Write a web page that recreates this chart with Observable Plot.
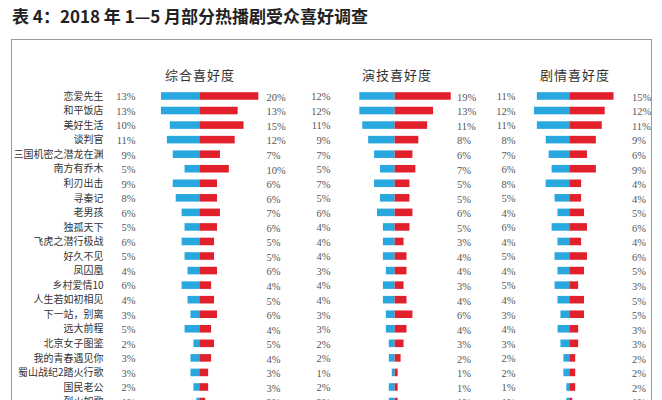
<!DOCTYPE html>
<html><head><meta charset="utf-8">
<script src="https://cdn.jsdelivr.net/npm/d3@7"></script>
<script src="https://cdn.jsdelivr.net/npm/@observablehq/plot@0.6"></script>
<style>
html,body{margin:0;padding:0;background:#fff;overflow:hidden;width:662px;height:400px}
#root{position:relative;width:662px;height:400px;overflow:hidden}
#title{position:absolute;left:12px;top:3px;font:bold 17px "Noto Sans CJK SC";color:#222;white-space:nowrap}
#frame{position:absolute;left:11px;top:39px;width:639px;height:420px;border:1px solid #9a9a9a;box-sizing:content-box}
.head{position:absolute;top:65px;font:13px "Noto Sans CJK SC";letter-spacing:1px;color:#333;transform:translateX(-50%);white-space:nowrap}
.panel{position:absolute;left:0;top:0}
</style></head><body>
<div id="root">
  <div id="title">表 4：2018 年 1—5 月部分热播剧受众喜好调查</div>
  <div id="frame"></div>
</div>
<script>
const names = ["恋爱先生","和平饭店","美好生活","谈判官","三国机密之潜龙在渊","南方有乔木","利刃出击","寻秦记","老男孩","独孤天下","飞虎之潜行极战","好久不见","凤囚凰","乡村爱情10","人生若如初相见","下一站，别离","远大前程","北京女子图鉴","我的青春遇见你","蜀山战纪2踏火行歌","国民老公","烈火如歌"];
const panelTitles = ["综合喜好度","演技喜好度","剧情喜好度"];
const overallBlue = [13,13,10,11,9,5,9,8,6,5,6,5,4,6,4,3,5,2,3,3,2,1];
const overallRed  = [20,13,15,12,7,10,6,6,7,6,5,5,6,4,5,6,4,5,4,3,3,2];
const actingBlue  = [12,12,11,9,7,5,7,5,6,4,4,4,3,4,4,3,3,2,2,1,2,2];
const actingRed   = [19,13,11,8,6,7,5,5,6,5,3,4,4,3,4,6,4,3,2,1,1,1];
const plotBlue    = [11,12,11,8,7,6,8,5,4,6,4,5,4,5,4,3,4,3,2,2,1,1];
const plotRed     = [15,12,11,9,6,9,4,4,5,6,4,6,5,3,5,5,3,3,2,2,2,1];

const BLUE = "#29a8e0", RED = "#e2202b";
const W = 662, H = 408.8, TOP = 88.7, K = 2.95;
const layouts = [
  {split: 199.3, labL: 135, labR: 266, head: 200},
  {split: 394.7, labL: 330, labR: 456.5, head: 397},
  {split: 569.3, labL: 515, labR: 631.5, head: 575}
];
const series = [[overallBlue, overallRed],[actingBlue, actingRed],[plotBlue, plotRed]];
const root = document.getElementById("root");

series.forEach(([blue, red], p) => {
  const L = layouts[p];
  const rows = names.map((n, i) => ({name: n, b: blue[i], r: red[i]}));
  const marks = [
    Plot.barX(rows, {y: "name", x1: 0, x2: d => -d.b, fill: BLUE}),
    Plot.barX(rows, {y: "name", x1: 0, x2: "r", fill: RED}),
    Plot.text(rows, {y: "name", text: d => d.b + "%", frameAnchor: "left", textAnchor: "end", fill: "#555", fontFamily: "Liberation Serif", fontSize: 10.5, dy: 0.5}),
    Plot.text(rows, {y: "name", text: d => d.r + "%", frameAnchor: "right", textAnchor: "start", fill: "#555", fontFamily: "Liberation Serif", fontSize: 10.5, dy: 1})
  ];
  if (p === 0) marks.push(Plot.axisY({tickSize: 0, tickPadding: L.labL - 103, fontSize: 10, fill: "#333", label: null}));
  const chart = Plot.plot({
    width: W, height: H,
    marginTop: TOP, marginBottom: 0,
    marginLeft: L.labL, marginRight: W - L.labR,
    x: {domain: [(L.labL - L.split) / K, (L.labR - L.split) / K], axis: null},
    y: {domain: names, paddingInner: 0.48, paddingOuter: 0.24, round: false, label: null, ...(p === 0 ? {} : {axis: null})},
    style: {fontFamily: "Noto Sans CJK SC", fontSize: "10px", color: "#333", background: "transparent", overflow: "visible"},
    marks
  });
  chart.classList.add("panel");
  chart.style.position = "absolute";
  chart.style.left = "0px";
  chart.style.top = "0px";
  root.appendChild(chart);
  const h = document.createElement("div");
  h.className = "head";
  h.style.left = L.head + "px";
  h.textContent = panelTitles[p];
  root.appendChild(h);
});
</script>
</body></html>
